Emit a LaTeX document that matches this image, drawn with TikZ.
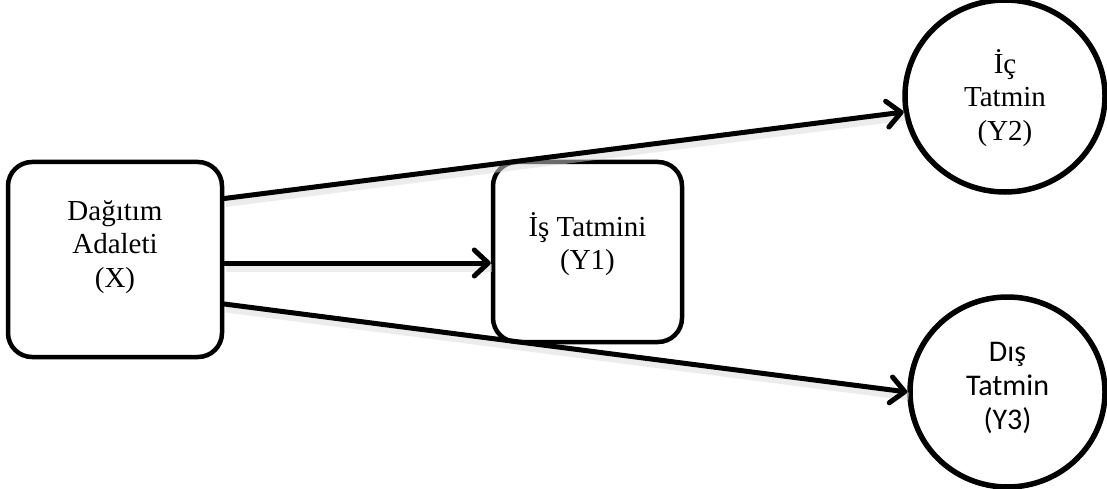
\documentclass[tikz,border=0pt]{standalone}
\usepackage{fontspec}
\setmainfont{Liberation Serif}
\newfontfamily\calfont{Carlito}
\usetikzlibrary{arrows.meta,shapes.geometric}

\begin{document}
\begin{tikzpicture}[x=1pt,y=-1pt,
  boxnode/.style={draw=black,line width=4.5pt,rounded corners=24pt,fill=white,
    inner sep=0pt},
  ringnode/.style={draw=black,line width=5.5pt,ellipse,fill=white,inner sep=0pt},
  txt/.style={align=center,font=\fontsize{29}{33.5}\selectfont,inner sep=0pt},
  arrowline/.style={line width=5pt,line cap=round,
    -{Straight Barb[length=14pt,width=26pt,line cap=round,line join=round]}},
  arrowshade/.style={line width=8pt,draw=black!15,opacity=0.5,
    transform canvas={shift={(1.5pt,-4.5pt)}}},
]
\useasboundingbox (0,0) rectangle (1107,489);

% boxes and circles
\node[boxnode,minimum width=214pt,minimum height=195pt] (xbox) at (115,259.5) {};
\node[boxnode,minimum width=189pt,minimum height=180pt] (ybox) at (587.5,252) {};
\node[ringnode,minimum width=200pt,minimum height=192pt] (ytwo) at (1005,96) {};
\node[ringnode,minimum width=195pt,minimum height=190pt] (ythree) at (1007.5,392) {};

% labels
\node[txt] (xtext) at (115,247) {Dağıtım\\Adaleti\\(X)};
\node[txt] (ytext) at (587.5,244) {İş Tatmini\\(Y1)};
\node[txt] (ytwotext) at (1005,98) {İç\\Tatmin\\(Y2)};
\node[txt,font=\calfont\fontsize{30}{34}\selectfont] (ythreetext) at (1007.5,388) {Dış\\Tatmin\\(Y3)};

% soft shadows under the arrows
\draw[arrowshade] ([yshift=61pt]xbox.east) -- (ytwo.189);
\draw[arrowshade] ([yshift=-3.5pt]xbox.east) -- ([yshift=-11pt]ybox.west);
\draw[arrowshade] ([yshift=-44.5pt]xbox.east) -- (ythree.west);

% arrows
\draw[arrowline] ([yshift=61pt]xbox.east) -- (ytwo.189);
\draw[arrowline] ([yshift=-3.5pt]xbox.east) -- ([yshift=-11pt]ybox.west);
\draw[arrowline] ([yshift=-44.5pt]xbox.east) -- (ythree.west);
\end{tikzpicture}
\end{document}
